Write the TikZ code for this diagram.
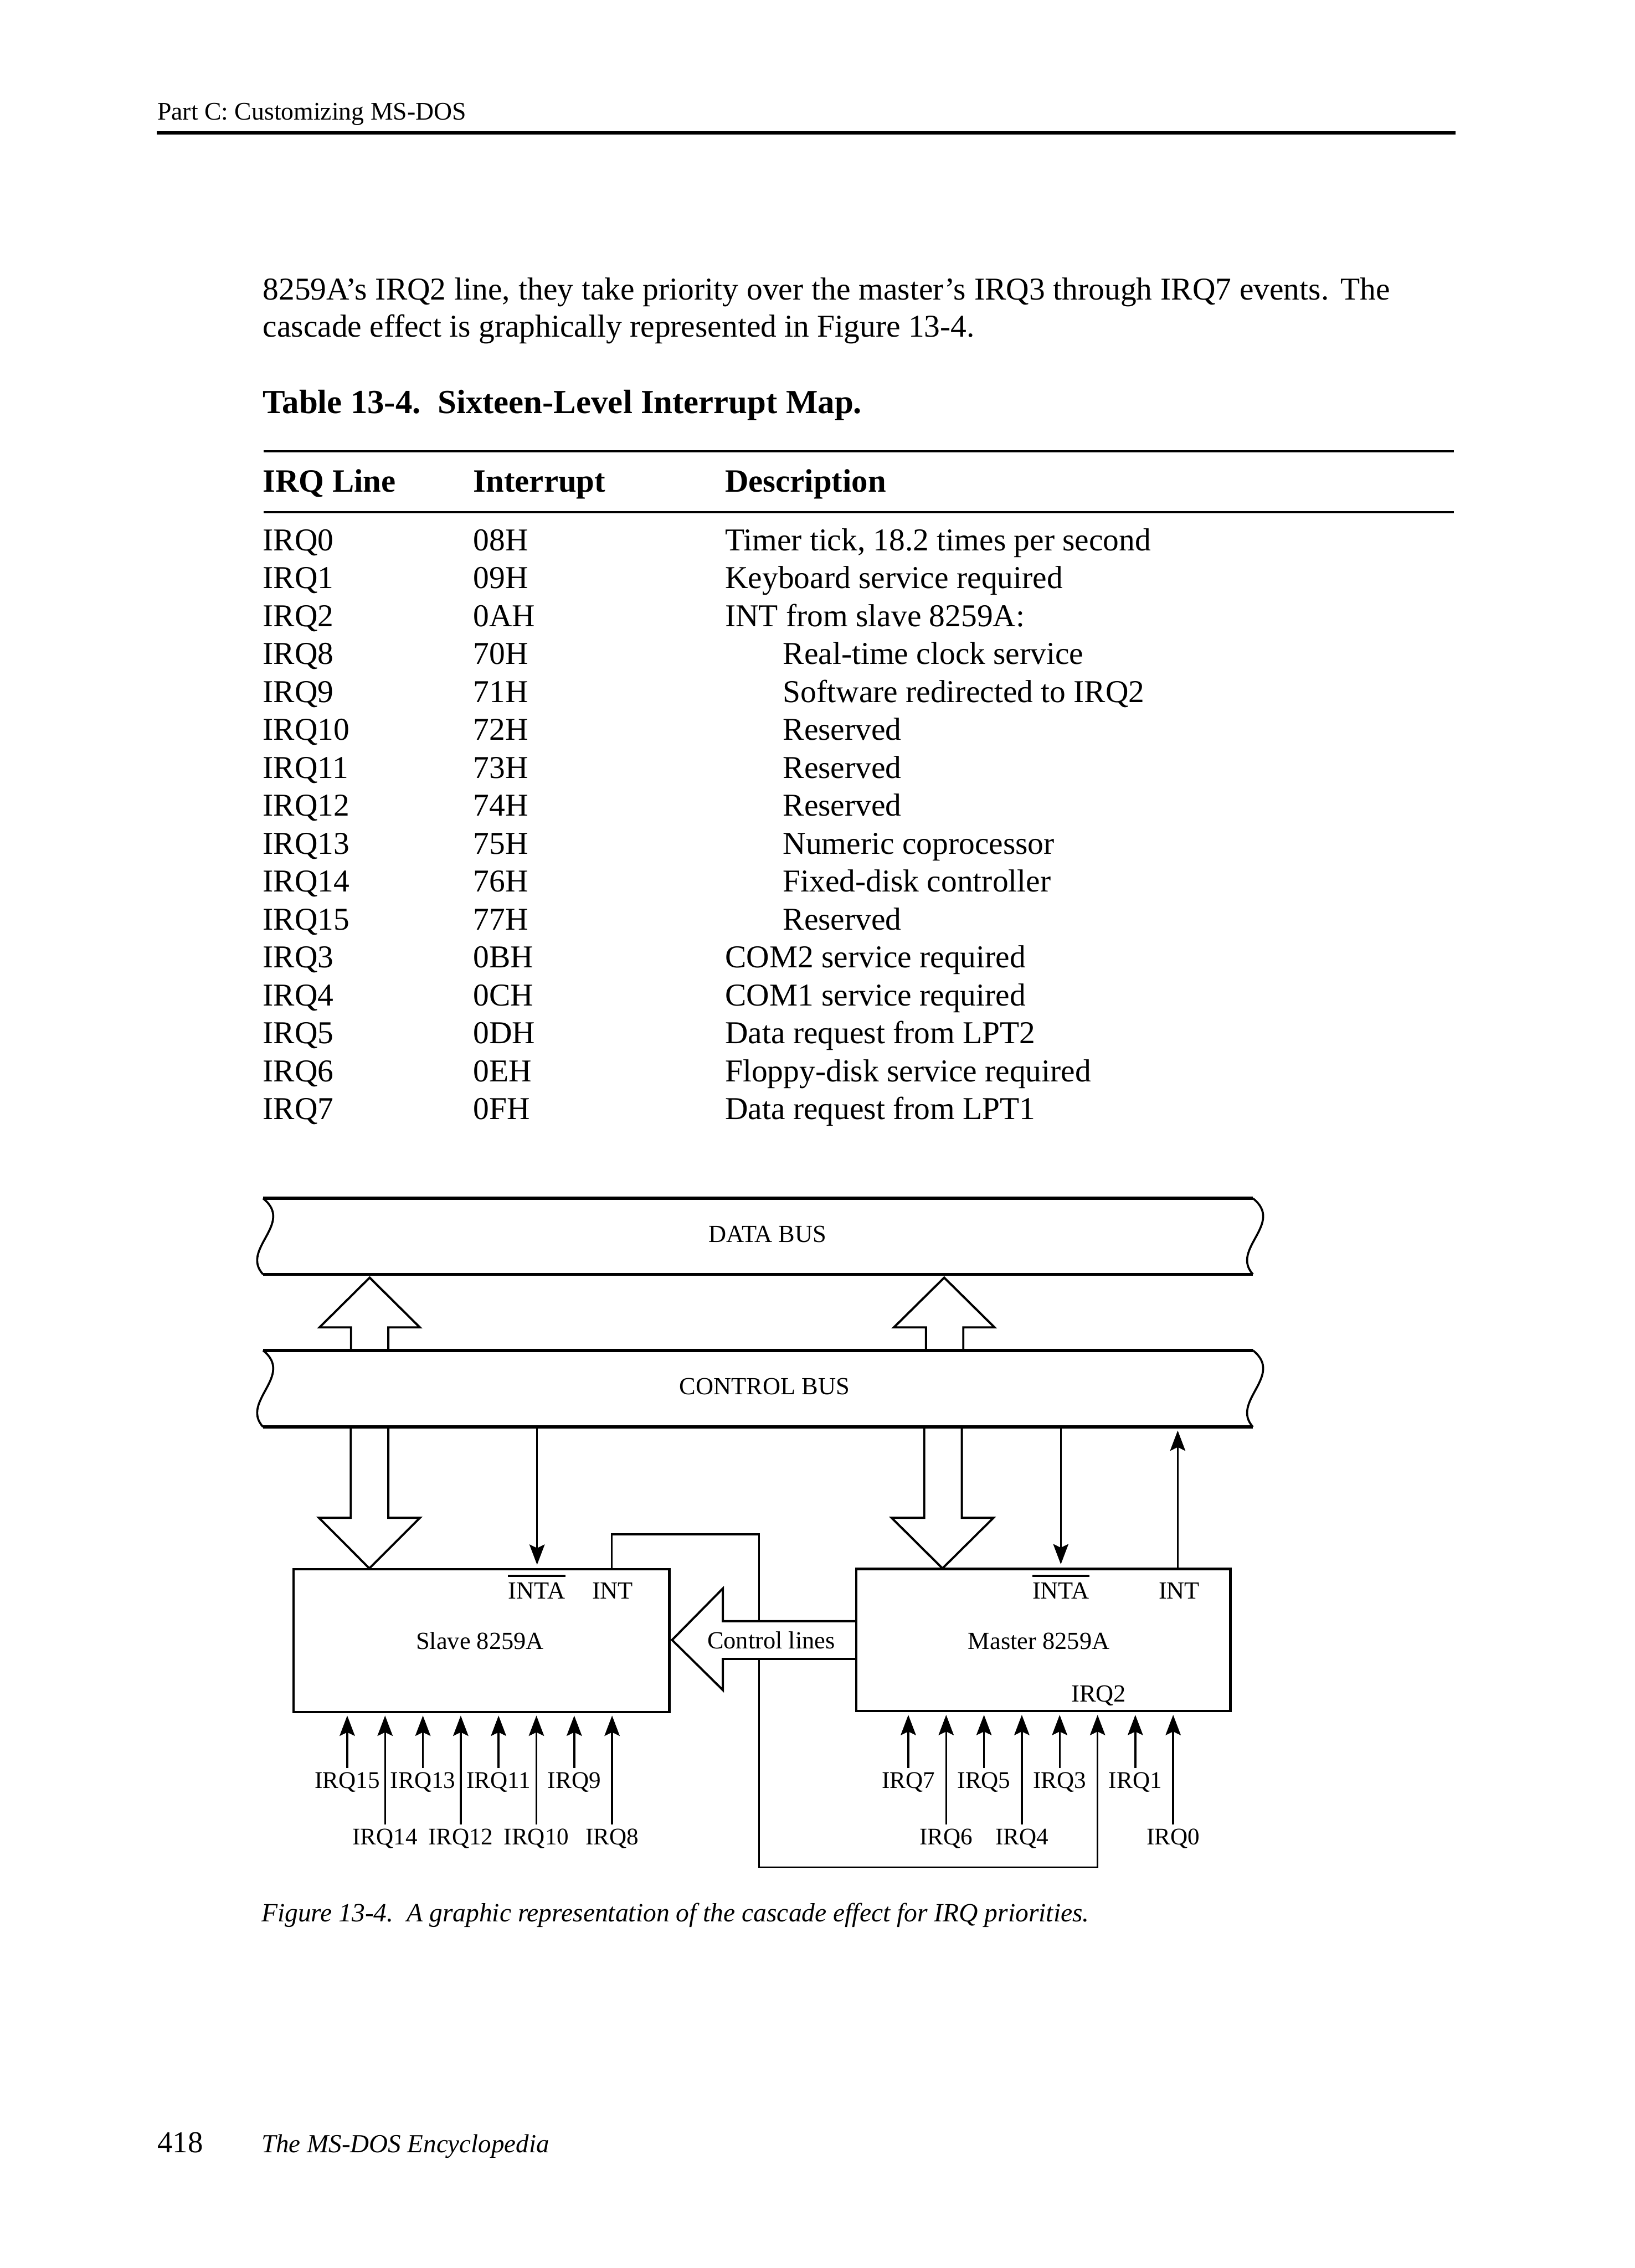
\documentclass[tikz,border=0pt]{standalone}
\usepackage{fontspec}
\setmainfont{Liberation Serif}
\usetikzlibrary{arrows.meta}
\begin{document}
\begin{tikzpicture}[x=1pt,y=-1pt,
  wire/.style={line width=1.3pt},
  sig/.style={wire,-{Stealth[length=14pt,width=10.5pt,inset=2.5pt]}},
  busline/.style={line width=2.2pt},
  busend/.style={line width=1.4pt},
  hollow/.style={line width=1.5pt,line join=miter},
  chip/.style={draw,rectangle,line width=1.6pt,inner sep=0pt},
  body/.style={font=\fontsize{22}{26}\selectfont,inner sep=0pt,anchor=base west},
  bodyb/.style={font=\fontsize{22.5}{26}\selectfont\bfseries,inner sep=0pt,anchor=base west},
  lbl/.style={font=\fontsize{17}{20}\selectfont,inner sep=0pt,anchor=base},
  irqlbl/.style={font=\fontsize{16.5}{20}\selectfont,inner sep=0pt,anchor=base},
  rulel/.style={line width=1.4pt}]
\useasboundingbox[fill=white] (0,0) rectangle (1130,1568);

% ---------- running head ----------
\node[font=\fontsize{17.5}{20}\selectfont,inner sep=0pt,anchor=base west] (head) at (108.6,83) {Part C: Customizing MS-DOS};
\draw[line width=2.2pt] (108.5,92) -- (1006,92);

% ---------- paragraph ----------
\node[body] (par1) at (181.5,207.2) {\makebox[779pt][s]{8259A’s IRQ2 line, they take priority over the master’s IRQ3 through IRQ7 events. The}};
\node[body] (par2) at (181.5,232.8) {cascade effect is graphically represented in Figure 13-4.};

% ---------- table ----------
\node[bodyb,font=\fontsize{23.3}{26}\selectfont\bfseries] (ttitle) at (181.5,285.9) {Table 13-4.\ \ Sixteen-Level Interrupt Map.};
\draw[rulel] (182.3,312.1) -- (1004.9,312.1);
\node[bodyb] (h1) at (181.5,340.2) {IRQ Line};
\node[bodyb] (h2) at (327,340.2) {Interrupt};
\node[bodyb] (h3) at (501,340.2) {Description};
\draw[rulel] (182.3,354) -- (1004.9,354);

\foreach \a/\b/\c/\d [count=\i from 0] in {
  IRQ0/08H/{Timer tick, 18.2 times per second}/501,
  IRQ1/09H/{Keyboard service required}/501,
  IRQ2/0AH/{INT from slave 8259A:}/501,
  IRQ8/70H/{Real-time clock service}/541,
  IRQ9/71H/{Software redirected to IRQ2}/541,
  IRQ10/72H/{Reserved}/541,
  IRQ11/73H/{Reserved}/541,
  IRQ12/74H/{Reserved}/541,
  IRQ13/75H/{Numeric coprocessor}/541,
  IRQ14/76H/{Fixed-disk controller}/541,
  IRQ15/77H/{Reserved}/541,
  IRQ3/0BH/{COM2 service required}/501,
  IRQ4/0CH/{COM1 service required}/501,
  IRQ5/0DH/{Data request from LPT2}/501,
  IRQ6/0EH/{Floppy-disk service required}/501,
  IRQ7/0FH/{Data request from LPT1}/501}
{
  \node[body] (irq\i) at (181.5,{380.7+26.22*\i}) {\a};
  \node[body] (vec\i) at (327,{380.7+26.22*\i}) {\b};
  \node[body] (desc\i) at (\d,{380.7+26.22*\i}) {\c};
}

% ---------- figure: buses ----------
\draw[busline] (181.8,828.5) -- (866,828.5);
\draw[busline] (181.8,881) -- (866,881);
\draw[busend] (181.8,828.5) .. controls (203.8,846) and (165.8,863.5) .. (181.8,881);
\draw[busend] (866,828.5) .. controls (888,846) and (850,863.5) .. (866,881);
\node[lbl] (dbus) at (530.6,858.7) {DATA BUS};

\draw[busline] (181.8,933.6) -- (866,933.6);
\draw[busline] (181.8,986.5) -- (866,986.5);
\draw[busend] (181.8,933.6) .. controls (203.8,951.2) and (165.8,968.9) .. (181.8,986.5);
\draw[busend] (866,933.6) .. controls (888,951.2) and (850,968.9) .. (866,986.5);
\node[lbl] (cbus) at (528.4,964) {CONTROL BUS};

% hollow arrows between the buses
\draw[hollow] (242.6,933.6) -- (242.6,917.7) -- (220.8,917.7) -- (255.5,883.3) -- (290.2,917.7) -- (268.4,917.7) -- (268.4,933.6);
\draw[hollow] (640,933.6) -- (640,917.7) -- (617.8,917.7) -- (652.6,883.3) -- (687.4,917.7) -- (665.8,917.7) -- (665.8,933.6);

% hollow arrows from control bus to the chips
\draw[hollow] (242.4,986.5) -- (242.4,1049.3) -- (220.4,1049.3) -- (255.3,1084.3) -- (290.3,1049.3) -- (268.4,1049.3) -- (268.4,986.5);
\draw[hollow] (638.8,986.5) -- (638.8,1049.3) -- (616.2,1049.3) -- (651.4,1084.3) -- (686.7,1049.3) -- (664.8,1049.3) -- (664.8,986.5);

% ---------- chips ----------
\node[chip,minimum width=259.8pt,minimum height=98.5pt] (slave) at (332.7,1134.25) {};
\node[chip,minimum width=258.5pt,minimum height=98.3pt] (master) at (721.15,1133.85) {};

\node[lbl] (sinta) at (370.9,1105.2) {INTA};
\draw[line width=1.4pt] ([yshift=4.3pt]sinta.north west) -- ([yshift=4.3pt]sinta.north east);
\node[lbl] (sint) at (423.4,1105.2) {INT};
\node[lbl] (slbl) at (331.7,1140.3) {Slave 8259A};

\node[lbl] (minta) at (733.2,1105.2) {INTA};
\draw[line width=1.4pt] ([yshift=4.3pt]minta.north west) -- ([yshift=4.3pt]minta.north east);
\node[lbl] (mint) at (815,1105.2) {INT};
\node[lbl] (mlbl) at (718,1140.3) {Master 8259A};
\node[lbl] (mirq2) at (759.4,1176.4) {IRQ2};

% INTA / INT signal lines
\coordinate (sintaTop) at (371.2,987.6);
\coordinate (mintaTop) at (733.2,987.6);
\coordinate (mintTop) at (814,987.6);
\draw[sig,shorten >=2.4pt] (sintaTop) -- (sintaTop |- slave.north);
\draw[sig,shorten >=2.4pt] (mintaTop) -- (mintaTop |- master.north);
\draw[sig,shorten >=1.4pt] (mintTop |- master.north) -- (mintTop);

% ---------- control lines arrow ----------
\coordinate (ctltop) at (524.7,1120.8);
\coordinate (ctlbot) at (524.7,1146.9);
\draw[hollow] (591.6,1120.8) -- (499.6,1120.8) -- (499.6,1098.2) -- (464.5,1133.8) -- (499.6,1168.4) -- (499.6,1146.9) -- (591.6,1146.9);
\node[lbl] (ctl) at (533,1139.8) {Control lines};

% cascade connection: slave INT -> master IRQ2
\coordinate (c1) at (422.9,1060.7);
\coordinate (c2) at (524.7,1060.7);
\coordinate (c3) at (524.7,1291);
\coordinate (c4) at (758.6,1291);
\draw[wire] (c1 |- slave.north) -- (c1) -- (c2) -- (ctltop);
\draw[sig,shorten >=1.8pt] (ctlbot) -- (c3) -- (c4) -- (c4 |- master.south);

% ---------- slave IRQ inputs ----------
\foreach \i/\nm in {0/IRQ15,2/IRQ13,4/IRQ11,6/IRQ9}{
  \node[irqlbl] (sl\i) at ({240+26.15*\i},1236.3) {\nm};
  \draw[sig,shorten <=2.8pt,shorten >=1.8pt] (sl\i.north) -- (sl\i.north |- slave.south);
}
\foreach \i/\nm in {1/IRQ14,3/IRQ12,5/IRQ10,7/IRQ8}{
  \node[irqlbl] (sl\i) at ({240+26.15*\i},1275.4) {\nm};
  \draw[sig,shorten <=3pt,shorten >=1.8pt] (sl\i.north) -- (sl\i.north |- slave.south);
}

% ---------- master IRQ inputs ----------
\foreach \i/\nm in {0/IRQ7,2/IRQ5,4/IRQ3,6/IRQ1}{
  \node[irqlbl] (ml\i) at ({627.8+26.15*\i},1236.3) {\nm};
  \draw[sig,shorten <=2.8pt,shorten >=1.8pt] (ml\i.north) -- (ml\i.north |- master.south);
}
\foreach \i/\nm in {1/IRQ6,3/IRQ4,7/IRQ0}{
  \node[irqlbl] (ml\i) at ({627.8+26.15*\i},1275.4) {\nm};
  \draw[sig,shorten <=3pt,shorten >=1.8pt] (ml\i.north) -- (ml\i.north |- master.south);
}

% ---------- caption and footer ----------
\node[font=\fontsize{18.2}{22}\selectfont\itshape,inner sep=0pt,anchor=base west] (cap) at (180.5,1328.6) {Figure 13-4.\ \ A graphic representation of the cascade effect for IRQ priorities.};
\node[font=\fontsize{21}{24}\selectfont,inner sep=0pt,anchor=base west] (pg) at (108.6,1488.2) {418};
\node[font=\fontsize{18}{22}\selectfont\itshape,inner sep=0pt,anchor=base west] (book) at (180.5,1488.2) {The MS-DOS Encyclopedia};
\end{tikzpicture}
\end{document}
